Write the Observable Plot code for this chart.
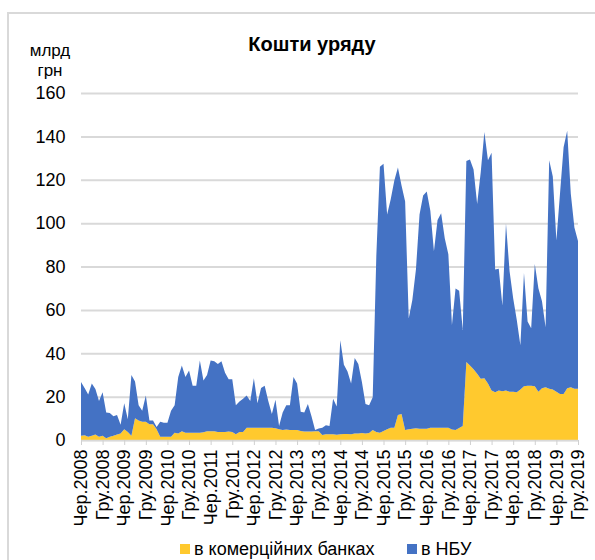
<!DOCTYPE html>
<html>
<head>
<meta charset="utf-8">
<script src="https://cdn.jsdelivr.net/npm/d3@7"></script>
<script src="https://cdn.jsdelivr.net/npm/@observablehq/plot@0.6"></script>
<style>
  body { margin: 0; background: #fff; font-family: "Liberation Sans", Arial, sans-serif; }
  #wrap { position: relative; width: 595px; height: 560px; overflow: hidden; }
  #border { position: absolute; left: 7px; top: 12px; width: 620px; height: 600px; border: 2px solid #d9d9d9; box-sizing: border-box; }
  .abs { position: absolute; white-space: nowrap; color: #000; }
  #title { left: 312px; top: 32px; transform: translateX(-50%); font-weight: bold; font-size: 20px; line-height: 24px; }
  #unit { left: 50px; top: 41px; transform: translateX(-50%); font-size: 17px; line-height: 20px; text-align: center; }
  #plot { position: absolute; left: 0; top: 0; }
  .sw { position: absolute; width: 10px; height: 10px; }
  .lt { font-size: 18px; line-height: 20px; top: 539px; }
</style>
</head>
<body>
<div id="wrap">
  <div id="border"></div>
  <div id="plot"></div>
  <div id="title" class="abs">Кошти уряду</div>
  <div id="unit" class="abs">млрд<br>грн</div>
  <div class="sw" style="left:180px;top:544px;background:#ffc92e"></div>
  <div class="abs lt" style="left:194px">в комерційних банках</div>
  <div class="sw" style="left:407px;top:544px;background:#4472c4"></div>
  <div class="abs lt" style="left:421px">в НБУ</div>
</div>
<script>
// Tick labels (every 6 months, Jun 2008 .. Dec 2019)
const tickLabels = ["Чер.2008","Гру.2008","Чер.2009","Гру.2009","Чер.2010","Гру.2010",
  "Чер.2011","Гру.2011","Чер.2012","Гру.2012","Чер.2013","Гру.2013",
  "Чер.2014","Гру.2014","Чер.2015","Гру.2015","Чер.2016","Гру.2016",
  "Чер.2017","Гру.2017","Чер.2018","Гру.2018","Чер.2019","Гру.2019"];
const yTicks = [0,20,40,60,80,100,120,140,160];
const seriesNames = ["в комерційних банках","в НБУ"];

// monthly values, Jun 2008 .. Dec 2019 (139 months), bn UAH
const bank = [
  2,2.2,1.5,2,2.5,1.5,2,0.8,1.5,2,
  2.5,3,5,3.7,2,10,9,8.4,8.4,7.3,
  7.3,5,1.5,1.5,1.5,1.5,3.4,3,4,3.4,
  3.4,3.4,3.4,3.4,3.6,4,4,4,3.7,3.7,
  3.7,3.9,3.7,2.6,3.7,3.7,5.7,5.7,5.7,5.7,
  5.7,5.7,5.7,5.7,5.4,5,4.6,4.8,4.6,4.6,
  4.6,4.2,3.9,3.9,3.9,4,4,2.3,2.6,2.6,
  2.6,2.4,2.6,2.8,2.8,2.6,3,3,3.2,3,
  3.2,4.6,3.7,3.4,4.2,5,5.6,5.7,11.5,12,
  4.6,5,5.2,5.4,5.2,5.2,5.2,5.7,5.7,5.7,
  5.7,5.7,5.7,4.8,4.6,5.5,6.5,36,34.4,32.6,
  30.5,28.2,28.5,26,22.8,22,22.8,22.5,22.8,22.3,
  22.3,22,23.3,24.8,25,25,24.8,22.3,23.9,24.3,
  23.6,23.3,22.3,21.2,21.2,23.9,24.3,23.6,23.6
];
const nbu = [
  24.7,21.8,19.5,24,21,16.5,20,11.9,10.9,9,
  9,4,12,5.9,28,17,7,5.1,12.1,1.7,
  1.7,1,6.9,6.5,6.5,12,12.6,26,30.4,25.6,
  28.6,21.6,21.6,33.3,23.8,26,32.7,32.3,31.3,32.6,
  27.3,24.1,24.3,13.4,14,15.3,14.8,12.3,22.8,11.3,
  18.3,19.3,12.3,6.3,13.2,1.5,8.1,11.2,11.4,24.4,
  21.4,8.8,8.8,12.7,7.1,0.6,1.3,3.4,4.2,3.9,
  16.4,13.1,43.4,31.9,28.8,23.4,34.8,32,23.5,13.6,
  12.8,15.1,81.1,122.6,123.2,99,105.4,114,114.1,105.4,
  105.4,51,59.4,73.2,98.8,107.5,109.4,100,81.3,95.7,
  98.8,87.3,79.9,48.2,65.2,63.3,44.2,92.7,94.9,92.1,
  78.3,95.4,113.5,103,109.6,56.6,56.2,39.5,77,55.5,
  43.1,33.3,20.4,52.2,29.6,26.5,56.4,47.7,40.1,27.7,
  105.4,98.2,69.7,92.3,113.8,118.7,89.2,74.4,68.2
];

const data = [];
bank.forEach((v, i) => data.push({i, series: seriesNames[0], v}));
nbu.forEach((v, i) => data.push({i, series: seriesNames[1], v}));

const chart = Plot.plot({
  width: 595, height: 560,
  marginLeft: 81, marginRight: 17, marginTop: 93, marginBottom: 120,
  style: {fontFamily: "'Liberation Sans', Arial, sans-serif", fontSize: "18px", color: "#000", background: "transparent", overflow: "visible"},
  x: {domain: [0, bank.length - 1]},
  y: {domain: [0, 160]},
  color: {domain: seriesNames, range: ["#ffc92e", "#4472c4"]},
  marks: [
    Plot.ruleY(yTicks, {stroke: "#d9d9d9", strokeWidth: 2}),
    Plot.areaY(data, Plot.stackY({x: "i", y: "v", fill: "series", order: seriesNames})),
    Plot.ruleY([0], {stroke: "#d9d9d9", strokeWidth: 1.5}),
    Plot.axisY({ticks: yTicks, tickSize: 0, tickPadding: 16, label: null, fontSize: 18}),
    Plot.axisX({ticks: d3.range(0, bank.length, 6), tickFormat: d => tickLabels[d / 6],
      tickRotate: -90, tickSize: 5, tickPadding: 4, stroke: "#d0d0d0", fill: "#000", label: null, fontSize: 18})
  ]
});
document.getElementById("plot").appendChild(chart);
</script>
</body>
</html>
